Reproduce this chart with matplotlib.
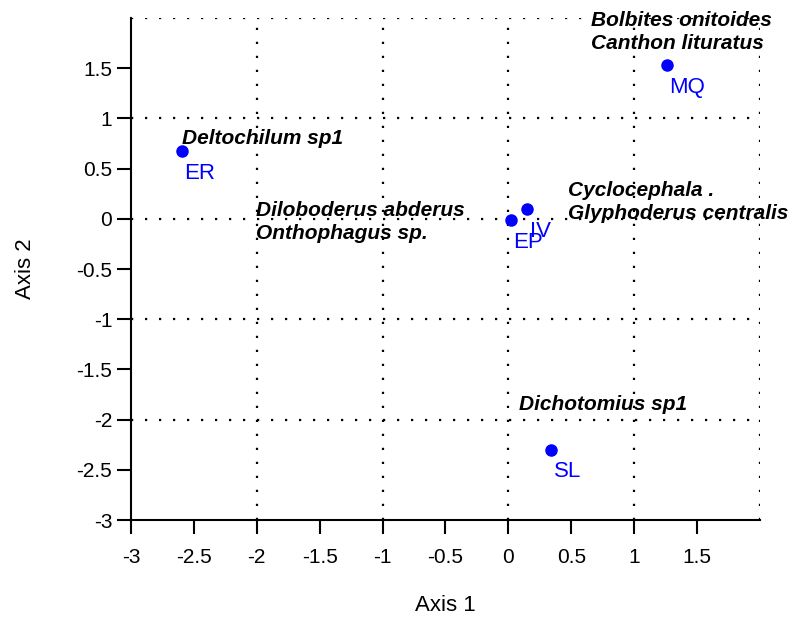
import matplotlib.pyplot as plt

plt.rcParams['font.family'] = ['Liberation Sans', 'DejaVu Sans']

# site scores
sites = ['ER', 'MQ', 'SL', 'EP', 'IV']
axis1 = [-2.594, 1.261, 0.343, 0.018, 0.151]
axis2 = [0.673, 1.531, -2.298, -0.012, 0.095]

# species labels (anchored at the baseline of the last line)
species = ['Deltochilum sp1',
           'Bolbites onitoides\nCanthon lituratus',
           'Diloboderus abderus\nOnthophagus sp.',
           'Cyclocephala .\nGlyphoderus centralis',
           'Dichotomius sp1']
species_x = [-2.593, 0.661, -2.008, 0.476, 0.088]
species_y = [0.748, 1.691, -0.204, -0.005, -1.907]

ticks = [-3, -2.5, -2, -1.5, -1, -0.5, 0, 0.5, 1, 1.5]
tick_labels = ['-3', '-2.5', '-2', '-1.5', '-1', '-0.5', '0', '0.5', '1', '1.5']
grid_pos = [-2, -1, 0, 1, 2]

fig = plt.figure(figsize=(7.95, 6.21), dpi=100)
ax = fig.add_axes([0.1648, 0.1626, 0.791, 0.8084])

dots = (0, (1, 5.3))
for g in grid_pos:
    ax.axvline(g, color='black', lw=1.6, ls=dots, zorder=1)
    ax.axhline(g, color='black', lw=1.6, ls=dots, zorder=1)

ax.plot(axis1, axis2, 'o', color='#0000ff', ms=8, zorder=3)
for name, x, y in zip(sites, axis1, axis2):
    ax.annotate(name, (x, y), xytext=(1.7, -20), textcoords='offset points',
                ha='left', va='baseline', color='#0000ff', fontsize=16, zorder=4)

for name, x, y in zip(species, species_x, species_y):
    ax.text(x, y, name, ha='left', va='baseline', fontsize=15,
            fontweight='bold', fontstyle='italic', linespacing=1.3, zorder=4)

ax.set_xlim(-3, 2)
ax.set_ylim(-3, 2)
ax.set_xticks(ticks)
ax.set_xticklabels(tick_labels)
ax.set_yticks(ticks)
ax.set_yticklabels(tick_labels)

for side in ['top', 'right']:
    ax.spines[side].set_visible(False)
for side in ['left', 'bottom']:
    ax.spines[side].set_linewidth(1.5)

ax.tick_params(axis='both', direction='out', length=10, width=1.5, labelsize=15)
ax.tick_params(axis='x', pad=10)
ax.tick_params(axis='y', pad=3.6)

ax.set_xlabel('Axis 1', fontsize=16, labelpad=20)
ax.set_ylabel('Axis 2', fontsize=16, labelpad=29)

fig.savefig('out.png', dpi=100)
